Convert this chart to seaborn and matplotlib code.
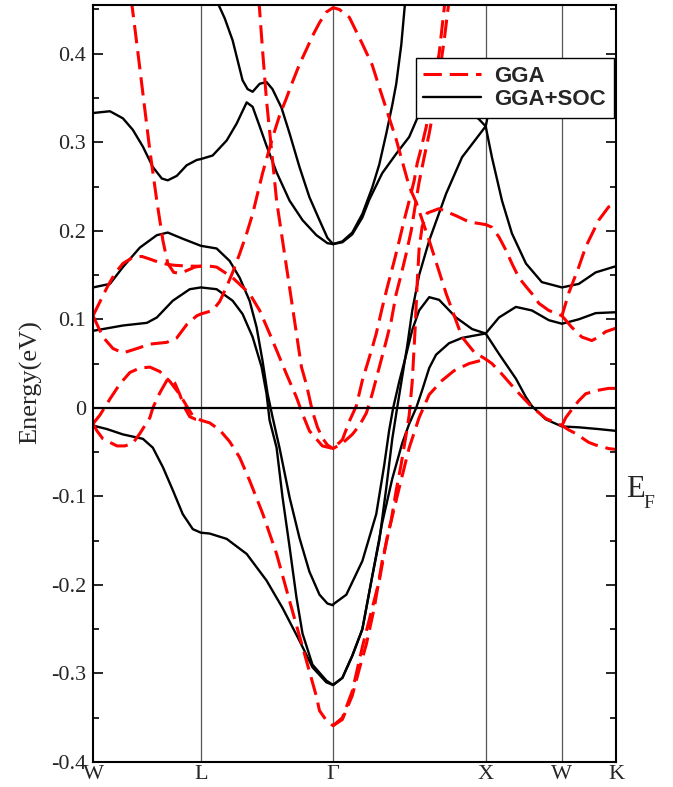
import numpy as np
import pandas as pd
import matplotlib
matplotlib.use("Agg")
import matplotlib.pyplot as plt
from matplotlib.lines import Line2D
from matplotlib.ticker import MultipleLocator, FuncFormatter
import seaborn as sns

# high-symmetry points of the path (2pi/a units)
kpt_labels = ["W", "L", "Γ", "X", "W", "K"]
kpt_pos = [0.0, 0.707, 1.573, 2.573, 3.073, 3.427]

# GGA+SOC bands (k, E in eV)
soc1_k = [0, 0.111, 0.196, 0.261, 0.327, 0.392, 0.451, 0.49, 0.549, 0.614,
          0.68, 0.707, 0.784, 0.876, 0.941, 1.007, 1.046, 1.092, 1.137, 1.203,
          1.288, 1.373, 1.464, 1.536, 1.573]
soc1_e = [0.333, 0.335, 0.327, 0.314, 0.295, 0.272, 0.259, 0.257, 0.262, 0.274,
          0.28, 0.281, 0.285, 0.302, 0.321, 0.345, 0.34, 0.318, 0.296, 0.266,
          0.234, 0.212, 0.195, 0.186, 0.185]
soc2_k = [0.797, 0.863, 0.915, 0.98, 1.013, 1.046, 1.092, 1.137, 1.176, 1.235,
          1.288, 1.353, 1.418, 1.484, 1.536, 1.573]
soc2_e = [0.465, 0.44, 0.415, 0.37, 0.36, 0.357, 0.366, 0.368, 0.36, 0.339,
          0.31, 0.272, 0.238, 0.212, 0.192, 0.185]
soc3_k = [0, 0.111, 0.196, 0.307, 0.418, 0.49, 0.588, 0.707, 0.81, 0.895,
          0.961, 1.026, 1.072, 1.111, 1.144, 1.176, 1.222, 1.288, 1.353, 1.418,
          1.484, 1.536, 1.573]
soc3_e = [0.136, 0.14, 0.159, 0.181, 0.195, 0.198, 0.191, 0.183, 0.18, 0.166,
          0.147, 0.121, 0.091, 0.053, 0.016, -0.01, -0.045, -0.101, -0.147, -0.185,
          -0.211, -0.221, -0.223]
soc4_k = [0, 0.196, 0.353, 0.418, 0.523, 0.634, 0.707, 0.81, 0.915, 0.98,
          1.046, 1.105, 1.137, 1.157, 1.203, 1.242, 1.288, 1.333, 1.373, 1.438,
          1.529, 1.573]
soc4_e = [0.087, 0.093, 0.096, 0.102, 0.121, 0.134, 0.136, 0.134, 0.121, 0.106,
          0.08, 0.046, 0.016, -0.014, -0.045, -0.101, -0.157, -0.214, -0.255, -0.29,
          -0.308, -0.313]
soc5_k = [0, 0.092, 0.196, 0.327, 0.392, 0.458, 0.523, 0.588, 0.654, 0.707,
          0.765, 0.876, 1.007, 1.137, 1.242, 1.353, 1.438, 1.529, 1.573]
soc5_e = [-0.02, -0.024, -0.03, -0.035, -0.045, -0.067, -0.093, -0.12, -0.137, -0.141,
          -0.142, -0.148, -0.165, -0.195, -0.226, -0.263, -0.293, -0.31, -0.313]
soc6_k = [1.573, 1.634, 1.699, 1.765, 1.83, 1.876, 1.922, 1.961, 1.987, 2.02, 2.046]
soc6_e = [0.185, 0.188, 0.198, 0.219, 0.249, 0.275, 0.31, 0.342, 0.366, 0.41, 0.46]
soc7_k = [1.573, 1.634, 1.699, 1.765, 1.81, 1.895, 1.987, 2.072, 2.137, 2.235,
          2.366, 2.484, 2.529, 2.573, 2.614, 2.68, 2.745, 2.837, 2.941, 3.073,
          3.183, 3.294, 3.427]
soc7_e = [0.185, 0.187, 0.196, 0.215, 0.235, 0.265, 0.287, 0.306, 0.332, 0.35,
          0.35, 0.332, 0.326, 0.318, 0.283, 0.234, 0.197, 0.163, 0.142, 0.136,
          0.14, 0.153, 0.16]
soc8_k = [1.573, 1.634, 1.699, 1.765, 1.83, 1.876, 1.922, 1.961, 1.993, 2.026,
          2.059, 2.092, 2.137, 2.203, 2.314, 2.418, 2.573, 2.595, 2.66, 2.856,
          3.073, 3.314]
soc8_e = [-0.313, -0.305, -0.28, -0.25, -0.19, -0.15, -0.09, -0.035, 0.0, 0.035,
          0.07, 0.11, 0.15, 0.189, 0.242, 0.283, 0.318, 0.336, 0.35, 0.365,
          0.37, 0.372]
soc9_k = [1.573, 1.66, 1.765, 1.856, 1.908, 1.941, 1.967, 2.007, 2.052, 2.092,
          2.137, 2.203, 2.268, 2.379, 2.484, 2.573, 2.66, 2.771, 2.837, 2.876,
          2.967, 3.073, 3.183, 3.314, 3.427]
soc9_e = [-0.222, -0.211, -0.173, -0.12, -0.065, -0.025, 0.0, 0.03, 0.06, 0.088,
          0.11, 0.125, 0.122, 0.102, 0.089, 0.084, 0.061, 0.033, 0.012, 0.002,
          -0.013, -0.021, -0.022, -0.024, -0.026]
soc10_k = [1.573, 1.634, 1.699, 1.765, 1.83, 1.895, 1.961, 2.026, 2.072, 2.118,
           2.157, 2.203, 2.248, 2.333, 2.418, 2.573, 2.66, 2.771, 2.876, 2.987,
           3.073, 3.183, 3.294, 3.427]
soc10_e = [-0.313, -0.305, -0.28, -0.25, -0.19, -0.13, -0.08, -0.04, -0.018, 0.0,
           0.02, 0.045, 0.06, 0.073, 0.079, 0.084, 0.102, 0.114, 0.11, 0.099,
           0.095, 0.1, 0.107, 0.108]

# GGA bands
gga1_k = [0.248, 0.288, 0.327, 0.373, 0.418, 0.458, 0.49, 0.529, 0.569, 0.614,
          0.667, 0.707, 0.765, 0.81, 0.863, 0.915, 1.026, 1.092, 1.157, 1.203,
          1.268, 1.333, 1.373, 1.418, 1.503, 1.573, 1.634, 1.68, 1.725, 1.765,
          1.83, 1.856, 1.895, 1.928, 1.974, 2.007, 2.039, 2.072, 2.105, 2.124,
          2.15, 2.183, 2.203, 2.235, 2.268, 2.307]
gga1_e = [0.465, 0.41, 0.355, 0.29, 0.234, 0.189, 0.163, 0.153, 0.152, 0.155,
          0.159, 0.16, 0.16, 0.159, 0.153, 0.147, 0.129, 0.11, 0.084, 0.065,
          0.038, 0.012, -0.007, -0.026, -0.043, -0.046, -0.036, -0.015, 0.002, 0.031,
          0.068, 0.084, 0.113, 0.136, 0.166, 0.189, 0.212, 0.234, 0.257, 0.276,
          0.293, 0.317, 0.336, 0.37, 0.4, 0.46]
gga2_k = [0, 0.046, 0.092, 0.144, 0.196, 0.261, 0.32, 0.373, 0.438, 0.49, 0.536, 0.634, 0.707]
gga2_e = [0.104, 0.12, 0.136, 0.152, 0.163, 0.17, 0.171, 0.168, 0.164, 0.162, 0.161, 0.16, 0.16]
gga3_k = [0, 0.065, 0.131, 0.196, 0.288, 0.373, 0.484, 0.549, 0.614, 0.68,
          0.707, 0.784, 0.83, 0.876, 0.915, 0.961, 1.007, 1.046, 1.111, 1.176,
          1.222, 1.268, 1.307, 1.353, 1.399, 1.438, 1.484, 1.529, 1.573, 1.614,
          1.68, 1.765, 1.83, 1.876, 1.987, 2.072, 2.118, 2.203, 2.314, 2.418,
          2.497, 2.573, 2.614, 2.68, 2.771, 2.837, 2.876, 2.967, 3.073, 3.118,
          3.163, 3.248, 3.294, 3.379, 3.427]
gga3_e = [0.104, 0.08, 0.067, 0.062, 0.067, 0.072, 0.074, 0.079, 0.094, 0.104,
          0.106, 0.11, 0.12, 0.137, 0.153, 0.174, 0.197, 0.219, 0.265, 0.305,
          0.33, 0.35, 0.368, 0.388, 0.405, 0.42, 0.435, 0.447, 0.452, 0.45,
          0.441, 0.411, 0.387, 0.362, 0.303, 0.25, 0.232, 0.189, 0.129, 0.08,
          0.063, 0.055, 0.05, 0.038, 0.02, 0.008, 0.001, -0.012, -0.02, -0.025,
          -0.029, -0.039, -0.042, -0.046, -0.047]
gga4_k = [0, 0.046, 0.111, 0.176, 0.242, 0.307, 0.373, 0.438, 0.503, 0.569,
          0.614, 0.654, 0.707, 0.765, 0.83, 0.895, 0.961, 1.026, 1.111, 1.203,
          1.288, 1.373, 1.464, 1.484, 1.529, 1.573, 1.634, 1.699, 1.765, 1.824,
          1.876, 1.928, 2.007, 2.072, 2.137, 2.203, 2.288, 2.366, 2.464, 2.573]
gga4_e = [-0.018, -0.008, 0.01, 0.027, 0.04, 0.045, 0.046, 0.041, 0.03, 0.015,
          0.002, -0.009, -0.014, -0.017, -0.025, -0.038, -0.056, -0.082, -0.119, -0.165,
          -0.218, -0.27, -0.326, -0.342, -0.353, -0.359, -0.35, -0.32, -0.27, -0.23,
          -0.195, -0.146, -0.09, -0.045, -0.011, 0.015, 0.031, 0.042, 0.05, 0.055]
gga5_k = [0, 0.026, 0.065, 0.111, 0.157, 0.209, 0.261, 0.307, 0.373, 0.392,
          0.438, 0.484, 0.51, 0.536, 0.569, 0.601, 0.634, 0.673, 0.707]
gga5_e = [-0.018, -0.026, -0.035, -0.039, -0.043, -0.043, -0.04, -0.029, -0.011, 0.0,
          0.017, 0.031, 0.033, 0.028, 0.015, 0.0, -0.01, -0.013, -0.014]
gga6_k = [1.573, 1.634, 1.699, 1.745, 1.791, 1.843, 1.895, 1.954, 1.987, 2.02,
          2.052, 2.072, 2.092, 2.111, 2.124, 2.137, 2.157, 2.19, 2.268, 2.379,
          2.464, 2.573, 2.614, 2.66, 2.706, 2.745, 2.791, 2.837, 2.876, 2.922,
          2.987, 3.073, 3.118, 3.183, 3.229, 3.314, 3.379, 3.427]
gga6_e = [-0.359, -0.352, -0.325, -0.295, -0.267, -0.226, -0.173, -0.127, -0.093, -0.063,
          -0.03, -0.008, 0.03, 0.09, 0.14, 0.18, 0.205, 0.22, 0.225, 0.217,
          0.21, 0.207, 0.204, 0.193, 0.178, 0.163, 0.147, 0.137, 0.129, 0.118,
          0.11, 0.104, 0.13, 0.159, 0.182, 0.212, 0.227, 0.23]
gga7_k = [3.073, 3.137, 3.203, 3.268, 3.314, 3.359, 3.427]
gga7_e = [0.104, 0.091, 0.08, 0.076, 0.08, 0.086, 0.09]
gga8_k = [3.073, 3.098, 3.137, 3.183, 3.229, 3.314, 3.379, 3.427]
gga8_e = [-0.02, -0.011, -0.002, 0.008, 0.016, 0.02, 0.022, 0.022]
gga9_k = [1.085, 1.111, 1.137, 1.17, 1.203, 1.235, 1.268, 1.301, 1.333, 1.366,
          1.399, 1.438, 1.471, 1.503, 1.536, 1.573, 1.634, 1.699, 1.745, 1.791,
          1.83, 1.876, 1.922, 1.954, 1.987, 2.02, 2.052, 2.085, 2.111, 2.137,
          2.17, 2.203, 2.235, 2.268, 2.301, 2.333]
gga9_e = [0.465, 0.404, 0.347, 0.291, 0.234, 0.197, 0.159, 0.121, 0.084, 0.046,
          0.026, -0.004, -0.022, -0.034, -0.042, -0.046, -0.04, -0.03, -0.02, -0.006,
          0.016, 0.046, 0.076, 0.098, 0.129, 0.151, 0.174, 0.2, 0.228, 0.255,
          0.283, 0.31, 0.34, 0.375, 0.415, 0.46]

soc_bands = [(soc1_k, soc1_e), (soc2_k, soc2_e), (soc3_k, soc3_e), (soc4_k, soc4_e),
             (soc5_k, soc5_e), (soc6_k, soc6_e), (soc7_k, soc7_e), (soc8_k, soc8_e),
             (soc9_k, soc9_e), (soc10_k, soc10_e)]
gga_bands = [(gga1_k, gga1_e), (gga2_k, gga2_e), (gga3_k, gga3_e), (gga4_k, gga4_e),
             (gga5_k, gga5_e), (gga6_k, gga6_e), (gga7_k, gga7_e), (gga8_k, gga8_e),
             (gga9_k, gga9_e)]


def to_frame(bands):
    parts = []
    for i, (k, e) in enumerate(bands):
        parts.append(pd.DataFrame({"k": k, "E": e, "band": i}))
    return pd.concat(parts, ignore_index=True)


soc_df = to_frame(soc_bands)
gga_df = to_frame(gga_bands)

sns.set_style("ticks")
plt.rcParams["font.family"] = ["Liberation Serif", "DejaVu Serif"]

fig = plt.figure(figsize=(6.73, 7.87), dpi=100)
ax = fig.add_axes([93 / 673, 1 - 762 / 787, (616 - 93) / 673, (762 - 5) / 787])

for xp in kpt_pos[1:-1]:
    ax.axvline(xp, color="#555555", lw=0.9, zorder=0.5)

sns.lineplot(data=soc_df, x="k", y="E", units="band", estimator=None, sort=False,
             color="black", lw=1.7, solid_joinstyle="round", ax=ax, legend=False)
sns.lineplot(data=gga_df, x="k", y="E", units="band", estimator=None, sort=False,
             color="red", lw=2.2, linestyle=(0, (6, 2.6)), dash_joinstyle="round",
             ax=ax, legend=False)
ax.axhline(0, color="black", lw=1.6, zorder=3)

ax.set_xlim(0, 3.427)
ax.set_ylim(-0.4, 0.455)
ax.set_xticks(kpt_pos)
ax.set_xticklabels(kpt_labels)
ax.tick_params(axis="x", length=0, labelsize=16, pad=2)
ax.yaxis.set_major_locator(MultipleLocator(0.1))
ax.yaxis.set_minor_locator(MultipleLocator(0.05))
ax.yaxis.set_major_formatter(FuncFormatter(lambda v, _: "0" if abs(v) < 1e-9 else f"{v:.1f}"))
ax.tick_params(axis="y", which="both", direction="in", left=True, right=True,
               width=1.4, labelsize=16, pad=5)
ax.tick_params(axis="y", which="major", length=7.5)
ax.tick_params(axis="y", which="minor", length=4.5)
for sp in ax.spines.values():
    sp.set_linewidth(1.5)
    sp.set_color("black")
ax.set_xlabel("")
ax.set_ylabel("Energy(eV)", fontsize=19)
ax.yaxis.set_label_coords(-0.098, 0.502)

handles = [Line2D([], [], color="red", lw=2.2, linestyle=(0, (6, 2.6))),
           Line2D([], [], color="black", lw=1.7)]
leg = ax.legend(handles, ["GGA", "GGA+SOC"], loc="upper right",
                bbox_to_anchor=(0.996, 0.930), borderaxespad=0, fancybox=False,
                edgecolor="black", framealpha=1,
                prop={"family": "Liberation Sans", "weight": "bold", "size": 16},
                handlelength=2.6, handletextpad=0.6, labelspacing=0.1, borderpad=0.35)
leg.get_frame().set_linewidth(1.0)
leg.set_zorder(10)

fig.text(626 / 673, 1 - 497 / 787, "E", fontsize=22, va="baseline", ha="left")
fig.text(643 / 673, 1 - 508 / 787, "F", fontsize=14, va="baseline", ha="left")

fig.savefig("out.png", dpi=100)
